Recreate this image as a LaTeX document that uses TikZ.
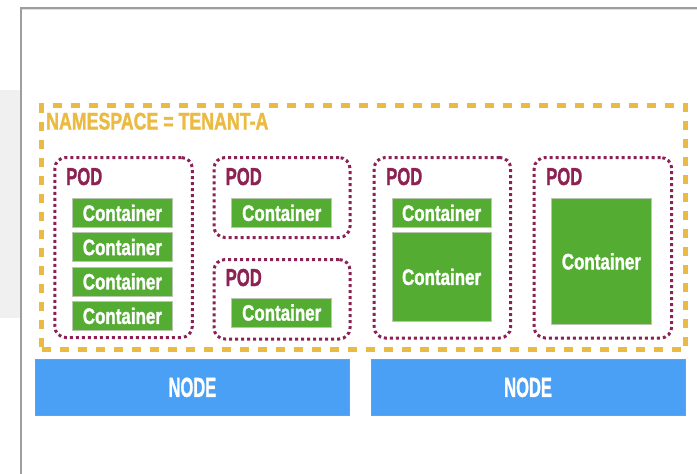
\documentclass[tikz,border=0pt]{standalone}
\usepackage{fontspec}
\usepackage{graphicx}
\setmainfont{Liberation Sans}
\newfontfamily\heavy[FakeBold=1.6]{Liberation Sans Bold}
\definecolor{nsyellow}{HTML}{EBBA42}
\definecolor{podred}{HTML}{8C2153}
\definecolor{cgreen}{HTML}{54AC33}
\definecolor{cgreenedge}{HTML}{B9C6B2}
\definecolor{nodeblue}{HTML}{4AA0F5}
\definecolor{nodeedge}{HTML}{7E9CBE}
\definecolor{framegray}{HTML}{9E9E9E}
\definecolor{sidegray}{HTML}{F0F0F0}
% condensed heavy lettering
\newcommand{\cond}[2]{\scalebox{#1}[1]{\heavy #2}}
\tikzset{
  ns/.style={draw=nsyellow, line width=5pt, dash pattern=on 9pt off 9pt},
  nslabel/.style={inner sep=0pt, anchor=base west, text=nsyellow,
    font=\fontsize{24}{24}\selectfont},
  pod/.style={draw=podred, line width=3pt, dash pattern=on 3pt off 3pt,
    rounded corners=11pt, inner sep=0pt, anchor=north west},
  podlabel/.style={inner sep=0pt, anchor=base west, text=podred,
    font=\fontsize{24.5}{24.5}\selectfont},
  ctr/.style={fill=cgreen, draw=cgreenedge, line width=0.8pt, inner sep=0pt,
    anchor=north west, text=white, minimum width=100pt,
    font=\fontsize{22.3}{22.3}\selectfont},
  worker/.style={fill=nodeblue, draw=nodeedge, line width=0.8pt, inner sep=0pt,
    anchor=north west, text=white, minimum width=314pt, minimum height=56pt,
    font=\fontsize{27.5}{27.5}\selectfont}
}
\newcommand{\ctrtext}{\cond{0.76}{Container}}
\newcommand{\podtext}{\cond{0.68}{POD}}
\begin{document}
\begin{tikzpicture}[x=1pt,y=-1pt]
  \useasboundingbox (0,0) rectangle (697,474);
  % page frame
  \fill[sidegray] (0,90) rectangle (21,318);
  \draw[black!12, line width=1pt] (21,9.6) -- (697,9.6);
  \draw[framegray, line width=1.5pt] (21,474) -- (21,8) -- (697,8);

  % namespace boundary
  \node (nsbox) [ns, inner sep=0pt, minimum width=644pt, minimum height=244pt,
    anchor=north west] at (39,103) {};
  \node (nslab) [nslabel] at (46,129.5) {\cond{0.74}{NAMESPACE = TENANT-A}};

  % pods
  \node (pod1) [pod, minimum width=137.5pt, minimum height=180pt] at (53.3,156) {};
  \node (pod2) [pod, minimum width=136pt, minimum height=80pt] at (212.5,156) {};
  \node (pod3) [pod, minimum width=136pt, minimum height=79.5pt] at (212.5,258) {};
  \node (pod4) [pod, minimum width=136.5pt, minimum height=180.5pt] at (372.7,156) {};
  \node (pod5) [pod, minimum width=137.5pt, minimum height=180.5pt] at (532.7,156) {};

  \node (pod1l) [podlabel] at (66,185) {\podtext};
  \node (pod2l) [podlabel] at (225.5,185) {\podtext};
  \node (pod3l) [podlabel] at (225.5,286) {\podtext};
  \node (pod4l) [podlabel] at (386,185) {\podtext};
  \node (pod5l) [podlabel] at (546,185) {\podtext};

  % containers
  \node (c11) [ctr, minimum height=29pt] at (72,198) {\ctrtext};
  \node (c12) [ctr, minimum height=29pt] at (72,232.2) {\ctrtext};
  \node (c13) [ctr, minimum height=29pt] at (72,266.6) {\ctrtext};
  \node (c14) [ctr, minimum height=29pt] at (72,301) {\ctrtext};
  \node (c21) [ctr, minimum height=29pt] at (231.3,198) {\ctrtext};
  \node (c31) [ctr, minimum height=29pt] at (231.3,297.7) {\ctrtext};
  \node (c41) [ctr, minimum width=99pt, minimum height=29pt] at (391.7,198) {\ctrtext};
  \node (c42) [ctr, minimum width=99pt, minimum height=89pt] at (391.7,232) {\ctrtext};
  \node (c51) [ctr, minimum height=126pt] at (551,198) {\ctrtext};

  % worker nodes
  \node (node1) [worker] at (35,359) {\cond{0.60}{NODE}};
  \node (node2) [worker] at (370.7,359) {\cond{0.60}{NODE}};
\end{tikzpicture}
\end{document}
